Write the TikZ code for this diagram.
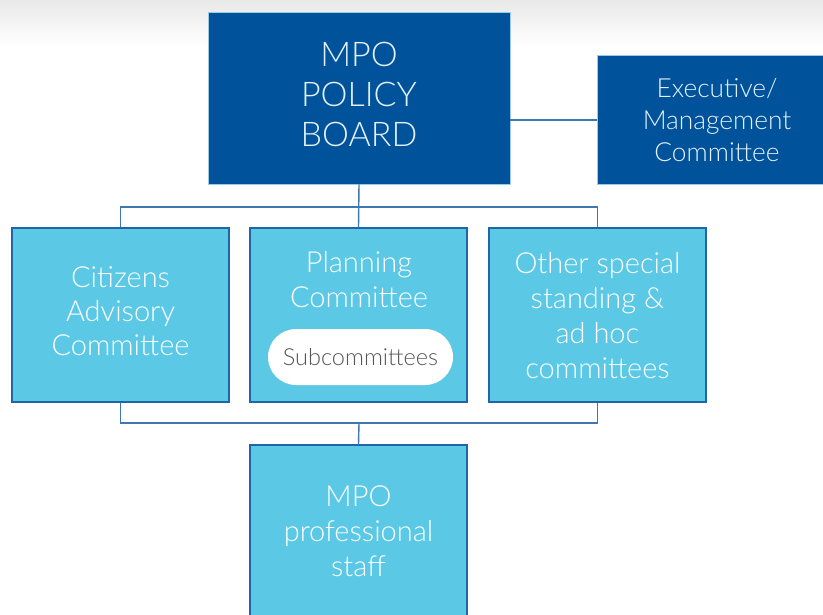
\documentclass[tikz,border=0pt]{standalone}
\usepackage{fontspec}
\setmainfont{Lato}[UprightFont=* Light]
\definecolor{darkbox}{HTML}{00539A}
\definecolor{darkedge}{HTML}{9CCBE8}
\definecolor{lightbox}{HTML}{5BC9E6}
\definecolor{lightedge}{HTML}{1E66A8}
\definecolor{connc}{HTML}{3F78AE}
\definecolor{darktext}{HTML}{E4F1FA}
\definecolor{pilltext}{HTML}{555555}
\tikzset{
  darkbox/.style={rectangle, fill=darkbox, draw=darkedge, line width=0.8pt, text=darktext, align=center, inner sep=0pt},
  lightbx/.style={rectangle, fill=lightbox, draw=lightedge, line width=1.2pt, text=white, align=center, inner sep=0pt, minimum width=217pt, minimum height=174pt},
  boxtext/.style={text=white, align=center, inner sep=0pt, font=\fontsize{29}{35}\selectfont},
  conn/.style={draw=connc, line width=1.4pt},
  pill/.style={rectangle, rounded corners=28pt, fill=white, text=pilltext, minimum width=185pt, minimum height=56pt, inner sep=0pt, font=\fontsize{23.5}{26}\selectfont}
}
\begin{document}
\begin{tikzpicture}[x=1pt,y=-1pt]
\useasboundingbox (0,0) rectangle (823,614);
\clip (0,0) rectangle (823,614);
\shade[top color=black!9, bottom color=white] (0,0) rectangle (823,45);
% boxes
\node[darkbox, minimum width=302pt, minimum height=172pt] (board) at (359,98) {};
\node[darkbox, font=\fontsize{34}{40}\selectfont, draw=none, fill=none] (boardtext) at (359,94) {MPO\\POLICY\\BOARD};
\node[darkbox, minimum width=240pt, minimum height=129pt, font=\fontsize{26.3}{32}\selectfont] (exec) at (717,120) {Executive/\\Management\\Committee};
\node[lightbx] (cit) at (120.5,315) {};
\node[boxtext, font=\fontsize{29}{34}\selectfont] (cittext) at (120.5,311) {Citizens\\Advisory\\Committee};
\node[lightbx] (plan) at (358.5,315) {};
\node[boxtext] (plantext) at (359,280) {Planning\\Committee};
\node[pill] (sub) at (360.5,357) {Subcommittees};
\node[lightbx] (oth) at (597.5,315) {};
\node[boxtext] (othtext) at (597.5,316) {Other special\\standing \&\\ad hoc\\committees};
\node[lightbx] (staff) at (358.5,532) {};
\node[boxtext] (stafftext) at (358.5,531) {MPO\\professional\\staff};
% connectors
\coordinate (jt) at (359,207);
\coordinate (jb) at (359,423);
\draw[conn] (board.east |- exec.west) -- (exec.west);
\draw[conn] (board.south) -- (plan.north);
\draw[conn] (cit.north) |- (jt) -| (oth.north);
\draw[conn] (cit.south) |- (jb) -| (oth.south);
\draw[conn] (jb) -- (staff.north);
\end{tikzpicture}
\end{document}
